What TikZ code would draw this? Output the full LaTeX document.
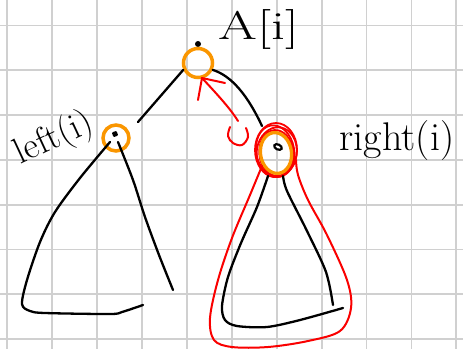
\documentclass[tikz,border=0pt]{standalone}
\usepackage{fontspec}
\usepackage{tikz}
\usetikzlibrary{shapes.geometric}
\definecolor{gridgray}{RGB}{208,208,208}
\definecolor{mark}{RGB}{250,150,0}
\definecolor{pen}{RGB}{250,0,0}
\tikzset{
  gridline/.style={gridgray, line width=1.8pt},
  ink/.style={black, line width=2.3pt, line cap=round, line join=round},
  redink/.style={pen, line width=2pt, line cap=round, line join=round},
  ocirc/.style={draw=mark, line width=3.5pt, circle, inner sep=0pt},
  oell/.style={draw=mark, line width=3.3pt, ellipse, inner sep=0pt},
  lbl/.style={font=\fontsize{40}{40}\selectfont, inner sep=0pt},
}
\begin{document}
\begin{tikzpicture}[x=1pt,y=-1pt]
\fill[white] (0,0) rectangle (463,349);
\useasboundingbox (0,0) rectangle (463,349);
% grid
\foreach \i in {0,...,10} \draw[gridline] ({7.3+44.9*\i},0) -- ({7.3+44.9*\i},349);
\foreach \j in {0,...,7} \draw[gridline] (0,{25.5+44.8*\j}) -- (463,{25.5+44.8*\j});

% labels
\node[lbl, xscale=1.4] (la) at (259,29) {A[i]};
\node[lbl] (lr) at (397,141) {right(i)};
\node[lbl, rotate=25, scale=0.92] (ll) at (54,139) {left(i)};

% top node
\node[fill=black, circle, minimum size=6pt, inner sep=0pt] (td) at (198,44) {};
\node[ocirc, minimum size=29pt] (ai) at (198,63) {};

% left node
\node[ocirc, minimum size=26pt] (lc) at (116,138) {};
\node[fill=black, rectangle, rounded corners=1pt, minimum size=5pt, inner sep=0pt, rotate=20] (ld) at (115,134) {};

% right node
\foreach \a/\rx/\ry/\dx/\dy in {0/21/27/0/0, 10/19/26/-1/1, -8/20/25/1/2, 5/17/23/0/3}
  \draw[redink, line width=1.8pt, rotate around={\a:(276,150)}] ({276+\dx},{150+\dy}) ellipse ({\rx} and {\ry});
\node[oell, minimum width=31pt, minimum height=41pt, rotate=8] (rc) at (276,153) {};
\node[draw=black, line width=2.2pt, ellipse, minimum width=8pt, minimum height=5pt, inner sep=0pt, rotate=-25, fill=white] (rd) at (278,147) {};

% connectors top -> children
\coordinate (le) at (138,122);
\draw[ink] (ai.205) -- (le);
\coordinate (re) at (262,126);
\draw[ink] (ai.-25) .. controls (232,76) and (248,96) .. (re);

% left subtree triangle
\draw[ink] plot[smooth, tension=0.5] coordinates {(110,142) (80,178) (55,212) (40,242) (27,280) (22,304) (30,311) (45,313) (110,314) (122,312) (143,305)};
\draw[ink] plot[smooth, tension=0.5] coordinates {(118,142) (133,180) (145,217) (159,255) (173,290)};

% right subtree triangle
\draw[ink] plot[smooth, tension=0.5] coordinates {(268,176) (257,207) (241,243) (228,277) (222,306) (225,320) (237,326) (267,327) (300,320) (343,308)};
\draw[ink] plot[smooth, tension=0.5] coordinates {(283,176) (287,191) (307,231) (326,272) (333,305)};

% red outline around right subtree
\draw[redink] plot[smooth, tension=0.55] coordinates {(262,166) (250,195) (232,238) (218,280) (210,318) (214,340) (232,347) (268,347) (308,341) (340,331) (351,308) (347,280) (327,235) (308,200) (298,175) (296,160)};

% red arrow
\coordinate (at) at (202,78);
\draw[redink] (238,121) .. controls (230,108) and (215,92) .. (at);
\draw[redink] (at) -- (198,100);
\draw[redink] (at) -- (225,83);
\draw[redink] plot[smooth, tension=0.6] coordinates {(230,127) (228,136) (233,143) (242,145) (248,137) (246,128)};
\end{tikzpicture}
\end{document}
